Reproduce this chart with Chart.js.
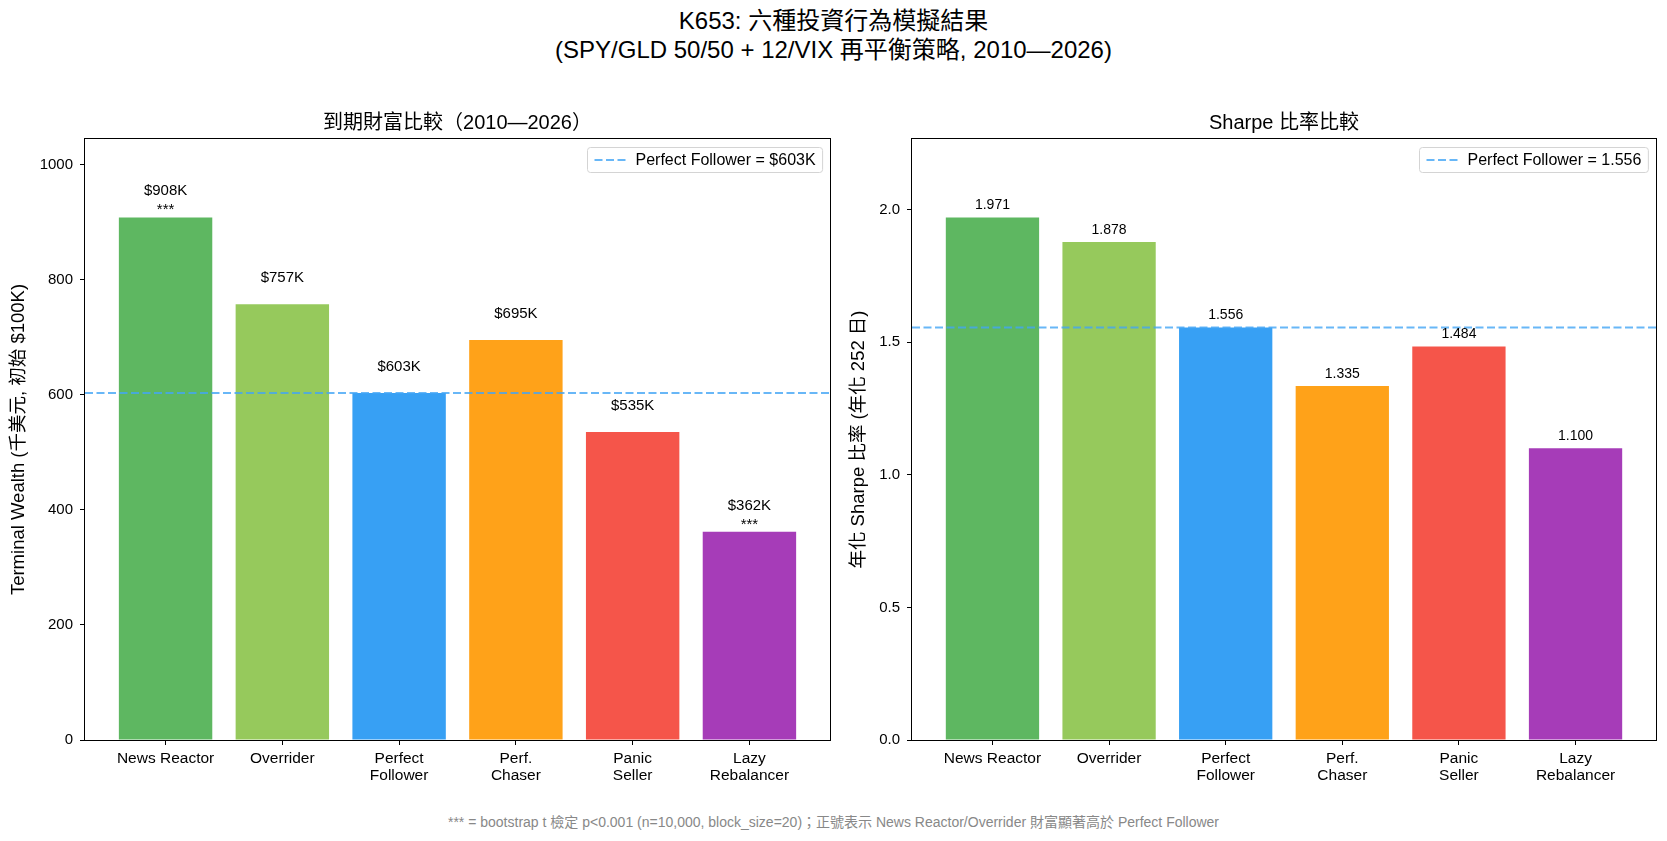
<!DOCTYPE html>
<html><head><meta charset="utf-8">
<script src="https://cdn.jsdelivr.net/npm/chart.js@4.4.1/dist/chart.umd.min.js"></script>
<style>
html,body{margin:0;padding:0;background:#fff;width:1667px;height:841px;overflow:hidden;}
body{position:relative;font-family:"Liberation Sans","Noto Sans CJK TC",sans-serif;}
#sup{position:absolute;left:0;width:1667px;top:6px;text-align:center;font-size:24px;line-height:29px;color:#000;}
#foot{position:absolute;left:0;width:1667px;top:813px;text-align:center;font-size:14px;line-height:18px;color:#888;}
canvas{position:absolute;}
</style></head><body>
<div id="sup">K653: 六種投資行為模擬結果<br>(SPY/GLD 50/50 + 12/VIX 再平衡策略, 2010—2026)</div>
<canvas id="c1" width="840" height="700" style="left:0px;top:100px"></canvas>
<canvas id="c2" width="827" height="700" style="left:840px;top:100px"></canvas>
<div id="foot">*** = bootstrap t 檢定 p&lt;0.001 (n=10,000, block_size=20)；正號表示 News Reactor/Overrider 財富顯著高於 Perfect Follower</div>
<script>
// ---- data ----
const categories = ['News Reactor', 'Overrider', 'Perfect\nFollower', 'Perf.\nChaser', 'Panic\nSeller', 'Lazy\nRebalancer'];
const terminalWealthK = [908, 757, 603, 695, 535, 362];
const sharpeRatios = [1.971, 1.878, 1.556, 1.335, 1.484, 1.100];
const significance = ['***', '', '', '', '', '***'];
const perfectFollowerWealthK = 603;
const perfectFollowerSharpe = 1.556;
const wealthTicks = [0, 200, 400, 600, 800, 1000];
const sharpeTicks = [0, 0.5, 1.0, 1.5, 2.0];
const barColors = ['rgba(76,175,80,0.9)', 'rgba(139,195,74,0.9)', 'rgba(33,150,243,0.9)',
                   'rgba(255,152,0,0.9)', 'rgba(244,67,54,0.9)', 'rgba(156,39,176,0.9)'];

// ---- styling ----
const FONT = '"Liberation Sans", "Noto Sans CJK TC", sans-serif';
Chart.defaults.font.family = FONT;
Chart.defaults.color = '#000';
const XMIN = -0.69, XMAX = categories.length - 1 + 0.69;
const REF_COLOR = 'rgba(66,165,245,0.8)';
const DASH = [8, 3.5];

function drawLegend(chart, text) {
  const ctx = chart.ctx, a = chart.chartArea;
  ctx.save();
  ctx.font = '16px ' + FONT;
  const tw = ctx.measureText(text).width;
  const h = 25, w = 7 + 31 + 10 + tw + 7;
  const x = Math.round(a.right - 8 - w) + 0.5, y = Math.round(a.top + 8) + 0.5, r = 3;
  ctx.beginPath();
  ctx.moveTo(x + r, y); ctx.lineTo(x + w - r, y); ctx.arcTo(x + w, y, x + w, y + r, r);
  ctx.lineTo(x + w, y + h - r); ctx.arcTo(x + w, y + h, x + w - r, y + h, r);
  ctx.lineTo(x + r, y + h); ctx.arcTo(x, y + h, x, y + h - r, r);
  ctx.lineTo(x, y + r); ctx.arcTo(x, y, x + r, y, r); ctx.closePath();
  ctx.fillStyle = 'rgba(255,255,255,0.85)'; ctx.fill();
  ctx.strokeStyle = '#d4d4d4'; ctx.lineWidth = 1; ctx.stroke();
  ctx.beginPath(); ctx.setLineDash(DASH); ctx.strokeStyle = REF_COLOR; ctx.lineWidth = 2;
  ctx.moveTo(x + 7, y + h / 2); ctx.lineTo(x + 38, y + h / 2); ctx.stroke();
  ctx.setLineDash([]);
  ctx.fillStyle = '#000'; ctx.textBaseline = 'middle'; ctx.textAlign = 'left';
  ctx.fillText(text, x + 48, y + h / 2 + 0.5);
  ctx.restore();
}

const extras = {
  id: 'extras',
  afterDatasetsDraw(chart, args, opts) {
    const ctx = chart.ctx, a = chart.chartArea;
    const meta = chart.getDatasetMeta(1);
    ctx.save();
    ctx.fillStyle = '#000'; ctx.textAlign = 'center'; ctx.textBaseline = 'alphabetic';
    meta.data.forEach((bar, i) => opts.label(ctx, bar, i));
    ctx.restore();
    // frame
    ctx.save();
    ctx.strokeStyle = '#000'; ctx.lineWidth = 1;
    ctx.strokeRect(Math.round(a.left) - 0.5, Math.round(a.top) - 0.5,
                   Math.round(a.right) - Math.round(a.left) + 1, Math.round(a.bottom) - Math.round(a.top) + 1);
    ctx.restore();
    drawLegend(chart, opts.legendText);
  }
};

function makeChart(id, o) {
  return new Chart(document.getElementById(id), {
    type: 'bar',
    data: {
      datasets: [
        { type: 'line', data: [{ x: XMIN, y: o.ref }, { x: XMAX, y: o.ref }],
          borderColor: REF_COLOR, borderWidth: 2, borderDash: DASH, pointRadius: 0, fill: false, order: 0 },
        { type: 'bar', data: o.values.map((v, i) => ({ x: i, y: v })), backgroundColor: barColors,
          borderWidth: 0, categoryPercentage: 1, barPercentage: 0.8, order: 1 }
      ]
    },
    options: {
      responsive: false, animation: false, events: [],
      layout: { padding: { top: 0, right: o.padRight, bottom: 0, left: 0 } },
      plugins: {
        legend: { display: false }, tooltip: { enabled: false },
        title: { display: true, text: o.title, fullSize: false, color: '#000',
                 font: { size: 20, weight: 'normal', lineHeight: 1.2 }, padding: { top: 11, bottom: 4 } },
        extras: { label: o.label, legendText: o.legendText }
      },
      scales: {
        x: {
          type: 'linear', min: XMIN, max: XMAX, offset: false,
          grid: { drawOnChartArea: false, drawTicks: true, tickLength: 5, color: '#000', offset: false },
          border: { display: false },
          ticks: { autoSkip: false, maxRotation: 0, minRotation: 0, padding: 5, color: '#000',
                   font: { size: 15.5, lineHeight: 1.1 },
                   callback: (v) => { const c = categories[Math.round(v)]; return c ? c.split('\n') : ''; } },
          afterBuildTicks: (s) => { s.ticks = categories.map((_, i) => ({ value: i })); },
          afterFit: (s) => { s.height = 60; }
        },
        y: {
          min: 0, max: o.max,
          grid: { drawOnChartArea: false, drawTicks: true, tickLength: 5, color: '#000' },
          border: { display: false },
          ticks: { padding: 7, color: '#000', font: { size: 15 }, includeBounds: false, callback: o.fmt },
          afterBuildTicks: (s) => { s.ticks = o.ticks.map(v => ({ value: v })); },
          afterFit: (s) => { s.width = o.yWidth; },
          title: { display: true, text: o.yTitle, color: '#000', font: { size: 18.5, lineHeight: 1.2 },
                   padding: { top: o.yTitlePad, bottom: 0 } }
        }
      }
    },
    plugins: [extras]
  });
}

makeChart('c1', {
  values: terminalWealthK, ref: perfectFollowerWealthK, max: Math.max(...terminalWealthK) * 1.15,
  ticks: wealthTicks, fmt: (v) => String(v), padRight: 10, yWidth: 85, yTitlePad: 8,
  title: '到期財富比較（2010—2026）', yTitle: 'Terminal Wealth (千美元, 初始 $100K)',
  legendText: 'Perfect Follower = $' + perfectFollowerWealthK + 'K',
  label: (ctx, bar, i) => {
    ctx.font = '15px ' + FONT;
    ctx.fillText('$' + terminalWealthK[i] + 'K', bar.x, bar.y - 22);
    if (significance[i]) ctx.fillText(significance[i], bar.x, bar.y - 3);
  }
});

makeChart('c2', {
  values: sharpeRatios, ref: perfectFollowerSharpe, max: Math.max(...sharpeRatios) * 1.15,
  ticks: sharpeTicks, fmt: (v) => v.toFixed(1), padRight: 11, yWidth: 72, yTitlePad: 8,
  title: 'Sharpe 比率比較', yTitle: '年化 Sharpe 比率 (年化 252 日)',
  legendText: 'Perfect Follower = ' + perfectFollowerSharpe.toFixed(3),
  label: (ctx, bar, i) => {
    ctx.font = '14px ' + FONT;
    ctx.fillText(sharpeRatios[i].toFixed(3), bar.x, bar.y - 8.5);
  }
});
</script>
</body></html>
